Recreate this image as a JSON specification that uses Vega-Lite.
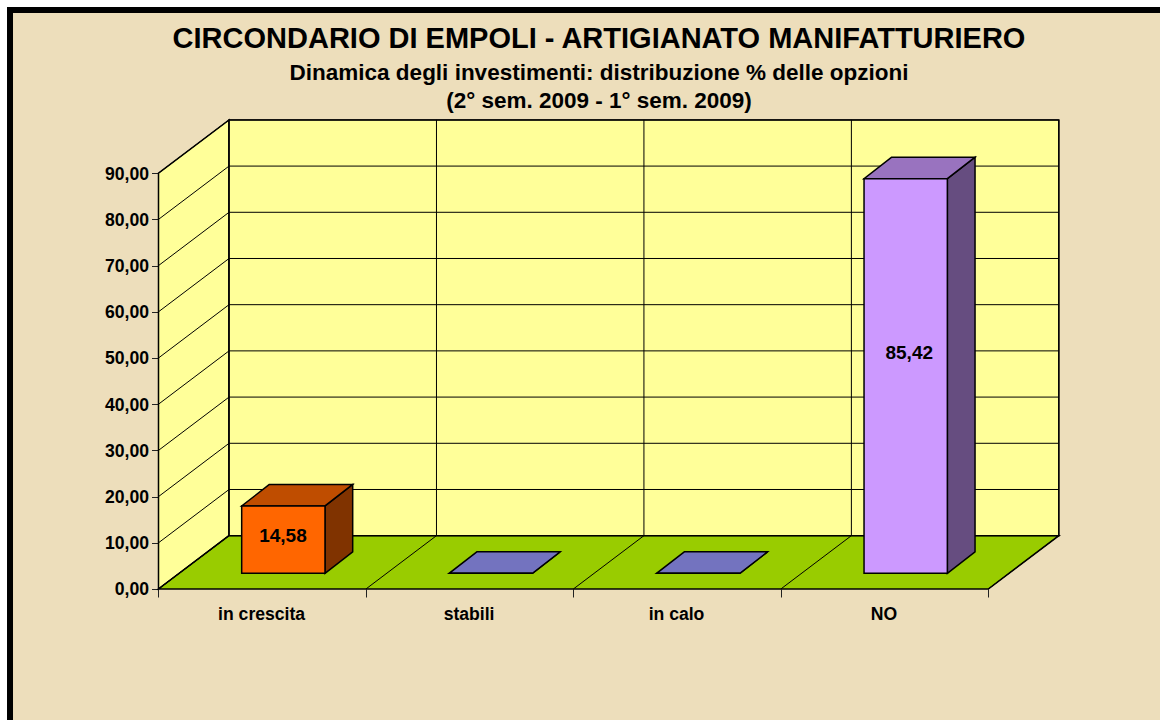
{
"$schema":"https://vega.github.io/schema/vega-lite/v6.json",
"width":1153,"height":713,
"autosize":{"type":"none"},
"padding":{"left":7,"top":7,"right":0,"bottom":0},
"background":"#ffffff",
"view":{"fill":"#eddebb","stroke":null},
"config":{"locale":{"number":{"decimal":",","thousands":".","grouping":[3],"currency":["","€"]}},"font":"Liberation Sans"},
"title":{"text":"CIRCONDARIO DI EMPOLI - ARTIGIANATO MANIFATTURIERO","subtitle":["Dinamica degli investimenti: distribuzione % delle opzioni","(2° sem. 2009 - 1° sem. 2009)"],"anchor":"middle","frame":"group","dx":15.5,"offset":-108,"font":"Liberation Sans","fontSize":29,"fontWeight":"bold","color":"#000000","subtitleFont":"Liberation Sans","subtitleFontSize":22.5,"subtitleFontWeight":"bold","subtitleColor":"#000000","subtitleLineHeight":28,"subtitlePadding":8},
"datasets":{
"barre":[{"categoria":"in crescita","indice":0,"valore":14.58},{"categoria":"stabili","indice":1,"valore":0},{"categoria":"in calo","indice":2,"valore":0},{"categoria":"NO","indice":3,"valore":85.42}],
"griglia":[{"v":0},{"v":10},{"v":20},{"v":30},{"v":40},{"v":50},{"v":60},{"v":70},{"v":80},{"v":90}],
"divisioni":[{"i":0},{"i":1},{"i":2},{"i":3},{"i":4}],
"lati":[{"lato":0},{"lato":1}]
},
"encoding":{
"x":{"field":"px","type":"quantitative","title":null,"scale":{"domain":[-0.7303,4.8277],"nice":false,"zero":false},"axis":{"orient":"bottom","offset":-131,"values":[0,1,2,3,4],"labels":false,"grid":false,"domain":false,"tickSize":8,"tickColor":"#222222","tickWidth":1,"title":null}},
"y":{"field":"py","type":"quantitative","title":null,"scale":{"domain":[-28.355,125.974],"nice":false,"zero":false},"axis":{"orient":"left","offset":-151.5,"values":[0,10,20,30,40,50,60,70,80,90],"format":".2f","grid":false,"domain":false,"tickSize":7,"tickColor":"#222222","tickWidth":1,"labelFontSize":17.6,"labelFontWeight":"bold","labelColor":"#000000","labelFont":"Liberation Sans","labelPadding":3,"labelOffset":1,"title":null}}
},
"layer":[
{"data":{"name":"lati"},"transform":[{"calculate":"datum.lato*0.34","as":"px"},{"calculate":"datum.lato*11.54","as":"py"},{"calculate":"90+datum.lato*11.54","as":"py2"}],
"mark":{"type":"area","fill":"#ffff99","stroke":"#000000","strokeWidth":1.5,"orient":"vertical"},"encoding":{"y2":{"field":"py2"}}},
{"data":{"name":"lati"},"transform":[{"filter":"datum.lato==0"},{"calculate":"0.34","as":"px"},{"calculate":"4.34","as":"px2"},{"calculate":"11.54","as":"py"},{"calculate":"101.54","as":"py2"}],
"mark":{"type":"rect","fill":"#ffff99","stroke":"#000000","strokeWidth":1.5},"encoding":{"x2":{"field":"px2"},"y2":{"field":"py2"}}},
{"data":{"name":"lati"},"transform":[{"calculate":"datum.lato*0.34","as":"px"},{"calculate":"4+datum.lato*0.34","as":"px2"},{"calculate":"datum.lato*11.54","as":"py"}],
"mark":{"type":"area","fill":"#99cc00","stroke":"#000000","strokeWidth":1.5,"orient":"horizontal"},"encoding":{"x2":{"field":"px2"}}},
{"data":{"name":"griglia"},"transform":[{"calculate":"0.34","as":"px"},{"calculate":"4.34","as":"px2"},{"calculate":"datum.v+11.54","as":"py"}],
"mark":{"type":"rule","color":"#000000","strokeWidth":1},"encoding":{"x2":{"field":"px2"}}},
{"data":{"name":"griglia"},"transform":[{"calculate":"0","as":"px"},{"calculate":"0.34","as":"px2"},{"calculate":"datum.v","as":"py"},{"calculate":"datum.v+11.54","as":"py2"}],
"mark":{"type":"rule","color":"#000000","strokeWidth":1},"encoding":{"x2":{"field":"px2"},"y2":{"field":"py2"}}},
{"data":{"name":"divisioni"},"transform":[{"calculate":"datum.i+0.34","as":"px"},{"calculate":"11.54","as":"py"},{"calculate":"101.54","as":"py2"}],
"mark":{"type":"rule","color":"#000000","strokeWidth":1},"encoding":{"y2":{"field":"py2"}}},
{"data":{"name":"divisioni"},"transform":[{"calculate":"datum.i","as":"px"},{"calculate":"datum.i+0.34","as":"px2"},{"calculate":"0","as":"py"},{"calculate":"11.54","as":"py2"}],
"mark":{"type":"rule","color":"#000000","strokeWidth":1},"encoding":{"x2":{"field":"px2"},"y2":{"field":"py2"}}},
{"data":{"name":"barre"},"transform":[{"calculate":"[0,1]","as":"lato"},{"flatten":["lato"]},{"calculate":"datum.indice+0.8026+datum.lato*0.1335","as":"px"},{"calculate":"3.4+datum.lato*4.65","as":"py"},{"calculate":"datum.valore+3.4+datum.lato*4.65","as":"py2"}],
"mark":{"type":"area","stroke":"#000000","strokeWidth":1.5,"orient":"vertical"},
"encoding":{"y2":{"field":"py2"},"detail":{"field":"categoria"},"color":{"field":"categoria","legend":null,"scale":{"domain":["in crescita","stabili","in calo","NO"],"range":["#803300","#4d4d80","#4d4d80","#664d80"]}}}},
{"data":{"name":"barre"},"transform":[{"calculate":"[0,1]","as":"lato"},{"flatten":["lato"]},{"calculate":"datum.indice+0.401+datum.lato*0.1335","as":"px"},{"calculate":"datum.indice+0.8026+datum.lato*0.1335","as":"px2"},{"calculate":"datum.valore+3.4+datum.lato*4.65","as":"py"}],
"mark":{"type":"area","stroke":"#000000","strokeWidth":1.5,"orient":"horizontal"},
"encoding":{"x2":{"field":"px2"},"detail":{"field":"categoria"},"color":{"field":"categoria","legend":null,"scale":{"domain":["in crescita","stabili","in calo","NO"],"range":["#bf4d00","#7373bf","#7373bf","#9973bf"]}}}},
{"data":{"name":"barre"},"transform":[{"calculate":"datum.indice+0.401","as":"px"},{"calculate":"datum.indice+0.8026","as":"px2"},{"calculate":"3.4","as":"py"},{"calculate":"datum.valore+3.4","as":"py2"}],
"mark":{"type":"rect","stroke":"#000000","strokeWidth":1.5},
"encoding":{"x2":{"field":"px2"},"y2":{"field":"py2"},"color":{"field":"categoria","legend":null,"scale":{"domain":["in crescita","stabili","in calo","NO"],"range":["#ff6600","#9999ff","#9999ff","#cc99ff"]}}}},
{"data":{"name":"barre"},"transform":[{"filter":"datum.valore>0"},{"calculate":"datum.indice*1.0063+0.6","as":"px"},{"calculate":"3.4+datum.valore*0.559","as":"py"}],
"mark":{"type":"text","fontSize":19,"fontWeight":"bold","color":"#000000","baseline":"middle","align":"center"},
"encoding":{"text":{"field":"valore","type":"quantitative","format":".2f"}}},
{"data":{"name":"barre"},"transform":[{"calculate":"datum.indice+0.497","as":"px"},{"calculate":"0","as":"py"}],
"mark":{"type":"text","fontSize":17.6,"fontWeight":"bold","color":"#000000","baseline":"middle","align":"center","dy":26},
"encoding":{"text":{"field":"categoria"}}},
{"data":{"name":"lati"},"transform":[{"filter":"datum.lato==0"},{"calculate":"-0.7158","as":"px"}],
"mark":{"type":"rule","color":"#000000","strokeWidth":6,"clip":false},"encoding":{"y":{"value":0},"y2":{"value":713}}},
{"data":{"name":"lati"},"transform":[{"filter":"datum.lato==0"},{"calculate":"125.32","as":"py"}],
"mark":{"type":"rule","color":"#000000","strokeWidth":6,"clip":false},"encoding":{"x":{"value":0},"x2":{"value":1153}}}
],
"resolve":{"scale":{"color":"independent"}}
}
